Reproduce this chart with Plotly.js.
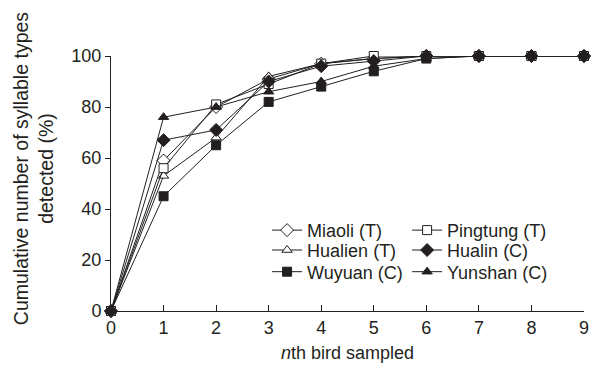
<!DOCTYPE html>
<html>
<head>
<meta charset="utf-8">
<script src="https://cdn.plot.ly/plotly-3.0.1.min.js"></script>
<style>html,body{margin:0;padding:0;background:#fff;}#chart{width:594px;height:373px;}</style>
</head>
<body>
<div id="chart"></div>
<script>
const birds = [0, 1, 2, 3, 4, 5, 6, 7, 8, 9];
const xTickLabels = ["0","1","2","3","4","5","6","7","8","9"];
const yTickValues = [0, 20, 40, 60, 80, 100];

const seriesNames = ["Miaoli (T)", "Pingtung (T)", "Hualien (T)", "Hualin (C)", "Wuyuan (C)", "Yunshan (C)"];
const miaoli   = [0, 59, 80, 91, 97, 99, 100, 100, 100, 100];
const pingtung = [0, 56, 81, 89, 97, 100, 100, 100, 100, 100];
const hualien  = [0, 53, 68, 92, 97, 99, 100, 100, 100, 100];
const hualin   = [0, 67, 71, 90, 96, 98, 100, 100, 100, 100];
const wuyuan   = [0, 45, 65, 82, 88, 94, 99, 100, 100, 100];
const yunshan  = [0, 76, 80, 86, 90, 96, 99, 100, 100, 100];

const ink = '#231f20';
function tr(name, y, symbol, fill, legend) {
  return {
    x: birds, y: y, name: name, type: 'scatter', mode: 'lines+markers',
    line: {color: ink, width: 1},
    marker: {symbol: symbol, size: symbol.indexOf('diamond') === 0 ? 10 : 9, color: fill, line: {color: ink, width: 1}},
    cliponaxis: false, legend: legend
  };
}
const data = [
  tr(seriesNames[0], miaoli, 'diamond', '#ffffff', 'legend'),
  tr(seriesNames[2], hualien, 'triangle-up', '#ffffff', 'legend3'),
  tr(seriesNames[4], wuyuan, 'square', ink, 'legend5'),
  tr(seriesNames[1], pingtung, 'square', '#ffffff', 'legend2'),
  tr(seriesNames[3], hualin, 'diamond', ink, 'legend4'),
  tr(seriesNames[5], yunshan, 'triangle-up', ink, 'legend6')
];

const font = {family: '"Liberation Sans", Arial, sans-serif', size: 18, color: ink};
function leg(x, y) {
  return {
    x: x, y: y, bgcolor: 'rgba(0,0,0,0)', borderwidth: 0, font: font,
    xanchor: 'left', yanchor: 'middle', itemwidth: 30, tracegroupgap: 0,
    itemclick: false
  };
}
const col1 = 0.33, col2 = 0.626;
const row1 = 0.316, row2 = 0.238, row3 = 0.153;
const layout = {
  width: 594, height: 373,
  margin: {l: 111, r: 10, t: 56, b: 62},
  paper_bgcolor: '#fff', plot_bgcolor: '#fff',
  font: font,
  showlegend: true,
  xaxis: {
    range: [0, 9], tickvals: birds, ticktext: xTickLabels,
    ticks: 'inside', ticklen: 6, tickwidth: 1, tickcolor: ink,
    showline: true, linecolor: ink, linewidth: 1, showgrid: false, zeroline: false,
    tickfont: font,
    title: {text: '<i>n</i>th bird sampled', font: font, standoff: 9}
  },
  yaxis: {
    range: [0, 100], tickvals: yTickValues,
    ticks: 'outside', ticklen: 5, tickwidth: 1, tickcolor: ink,
    showline: true, linecolor: ink, linewidth: 1, showgrid: false, zeroline: false,
    tickfont: font
  },
  legend: leg(col1, row1),
  legend2: leg(col2, row1),
  legend3: leg(col1, row2),
  legend4: leg(col2, row2),
  legend5: leg(col1, row3),
  legend6: leg(col2, row3),
  annotations: [{
    text: 'Cumulative number of syllable types<br>detected (%)',
    xref: 'paper', yref: 'paper', x: -0.165, y: 0.56,
    xanchor: 'center', yanchor: 'middle', textangle: -90,
    showarrow: false, font: Object.assign({}, font, {size: 19.5})
  }]
};
Plotly.newPlot('chart', data, layout, {displayModeBar: false, staticPlot: true});
</script>
</body>
</html>
